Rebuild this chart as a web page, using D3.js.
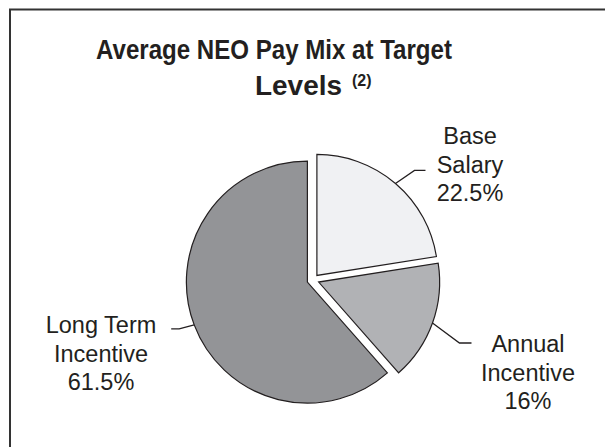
<!DOCTYPE html>
<html>
<head>
<meta charset="utf-8">
<script src="https://cdn.jsdelivr.net/npm/d3@7"></script>
<style>
  body { margin: 0; background: #fff; }
  svg { display: block; font-family: "Liberation Sans", Arial, sans-serif; }
</style>
</head>
<body>
<script>
// pie data
var categories = ["Base Salary", "Annual Incentive", "Long Term Incentive"];
var values = [22.5, 16, 61.5];
var valueLabels = ["22.5%", "16%", "61.5%"];
var labelLines = [["Base", "Salary"], ["Annual", "Incentive"], ["Long Term", "Incentive"]];
var fills = ["#f0f1f3", "#b1b2b5", "#939497"];

var width = 605,
    height = 447,
    cx = 313,
    cy = 280,
    radius = 121,
    explode = 6,
    ink = "#231f20";

// label layout: text center x, first baseline y, leader elbow offset and tail length
var labelLayout = [
  {x: 470, y: 144, elbow: [19, -13], tail: 11},
  {x: 528, y: 352, elbow: [27, 20], tail: 12},
  {x: 101, y: 333, elbow: [-15, 4], tail: -8}
];

var svg = d3.select("body").append("svg")
    .attr("width", width)
    .attr("height", height);

// frame (runs off the right and bottom)
svg.append("rect")
    .attr("x", 10).attr("y", 9.5)
    .attr("width", 700).attr("height", 600)
    .attr("fill", "none")
    .attr("stroke", "#333")
    .attr("stroke-width", 2);

// title
var title = svg.append("text")
    .attr("fill", ink)
    .attr("font-weight", "bold");
title.append("tspan")
    .attr("x", 96).attr("y", 59)
    .attr("font-size", 27.5)
    .attr("textLength", 356)
    .attr("lengthAdjust", "spacingAndGlyphs")
    .text("Average NEO Pay Mix at Target");
var t2 = svg.append("text").attr("fill", ink).attr("font-weight", "bold");
t2.append("tspan")
    .attr("x", 255).attr("y", 95)
    .attr("font-size", 27.5)
    .attr("textLength", 87)
    .attr("lengthAdjust", "spacingAndGlyphs")
    .text("Levels");
t2.append("tspan")
    .attr("x", 352).attr("y", 86)
    .attr("font-size", 16)
    .text("(2)");

var pie = d3.pie().sort(null).value(function(d) { return d; });
var arcs = pie(values);
var arc = d3.arc().innerRadius(0).outerRadius(radius);

function unit(a) { return [Math.sin(a), -Math.cos(a)]; }

var g = svg.append("g").attr("transform", "translate(" + cx + "," + cy + ")");

g.selectAll("path.slice")
    .data(arcs)
    .enter()
    .append("path")
    .attr("class", "slice")
    .attr("transform", function(d) {
        var m = unit((d.startAngle + d.endAngle) / 2);
        return "translate(" + m[0] * explode + "," + m[1] * explode + ")";
    })
    .attr("d", arc)
    .attr("fill", function(d, i) { return fills[i]; })
    .attr("stroke", ink)
    .attr("stroke-width", 1.2)
    .attr("stroke-linejoin", "miter");

// leader lines
g.selectAll("path.leader")
    .data(arcs)
    .enter()
    .append("path")
    .attr("class", "leader")
    .attr("fill", "none")
    .attr("stroke", ink)
    .attr("stroke-width", 1.3)
    .attr("d", function(d, i) {
        var m = unit((d.startAngle + d.endAngle) / 2);
        var sx = m[0] * (explode + radius), sy = m[1] * (explode + radius);
        var L = labelLayout[i];
        var ex = sx + L.elbow[0], ey = sy + L.elbow[1];
        return "M" + sx + "," + sy + "L" + ex + "," + ey + "L" + (ex + L.tail) + "," + ey;
    });

// labels
svg.selectAll("text.label")
    .data(arcs)
    .enter()
    .append("text")
    .attr("class", "label")
    .attr("fill", ink)
    .attr("font-size", 23.5)
    .attr("text-anchor", "middle")
    .each(function(d, i) {
        var L = labelLayout[i];
        var lines = labelLines[i].concat([valueLabels[i]]);
        var t = d3.select(this);
        lines.forEach(function(s, k) {
            t.append("tspan").attr("x", L.x).attr("y", L.y + k * 28.5).text(s);
        });
    });
</script>
</body>
</html>
